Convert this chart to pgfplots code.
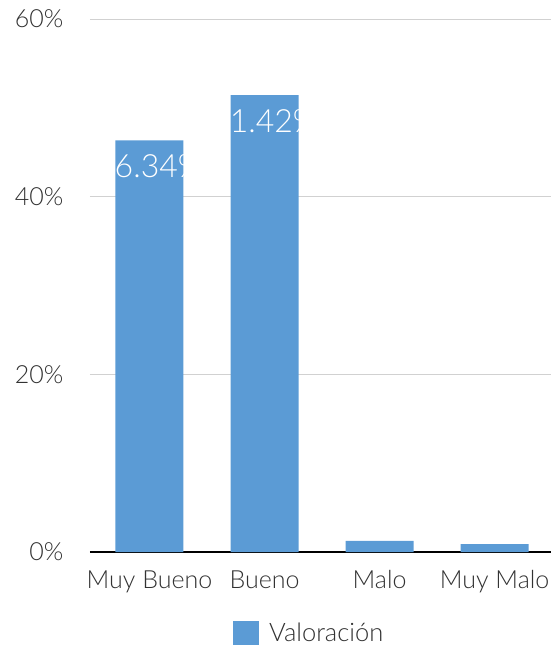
\documentclass[border=0pt]{standalone}
\usepackage{pgfplots}
\pgfplotsset{compat=1.18}
\usepackage{fontspec}
\setmainfont{Lato}[UprightFont=* Light]
\definecolor{barblue}{RGB}{91,155,213}
\definecolor{txt}{RGB}{50,50,50}
\begin{document}
\begin{tikzpicture}
\begin{axis}[
  name=ax,
  scale only axis,
  width=461bp, height=533bp,
  xmin=-0.517, xmax=3.49,
  ymin=0, ymax=60,
  ybar, bar width=68bp,
  axis y line=left,
  y axis line style={draw=none},
  axis x line=bottom,
  x axis line style={-, black, line width=2.8bp},
  ytick={0,20,40,60},
  yticklabels={0\%,20\%,40\%,60\%},
  ymajorgrids,
  grid style={line width=0.8bp, color=black!18},
  xtick={0,1,2,3},
  xticklabels={Muy Bueno,Bueno,Malo,Muy Malo},
  major tick length=0pt,
  tick style={draw=none},
  tick label style={font=\fontsize{25bp}{30bp}\selectfont, text=txt},
  yticklabel style={xshift=-23bp},
  xticklabel style={yshift=-15bp},
  point meta=explicit symbolic,
  nodes near coords,
  every node near coord/.append style={anchor=north, yshift=-14bp, inner sep=0pt, text=white, font=\fontsize{32bp}{32bp}\selectfont},
  legend style={draw=none, at={(0.310,-0.152)}, anchor=west, inner sep=0pt, font=\fontsize{25.5bp}{30bp}\selectfont, text=txt},
  legend image code/.code={\fill[barblue] (0bp,-12bp) rectangle (26bp,12bp);},
  legend cell align=left,
]
\addplot[fill=barblue, draw=none] coordinates {(0,46.34) [46.34\%] (1,51.42) [51.42\%] (2,1.24) [] (3,0.9) []};
\addlegendentry{\hspace{8bp}Valoración}
\end{axis}
\pgfresetboundingbox
\path ([shift={(-90bp,-94bp)}]ax.south west) rectangle ([shift={(461bp,552bp)}]ax.south west);
\end{tikzpicture}
\end{document}
